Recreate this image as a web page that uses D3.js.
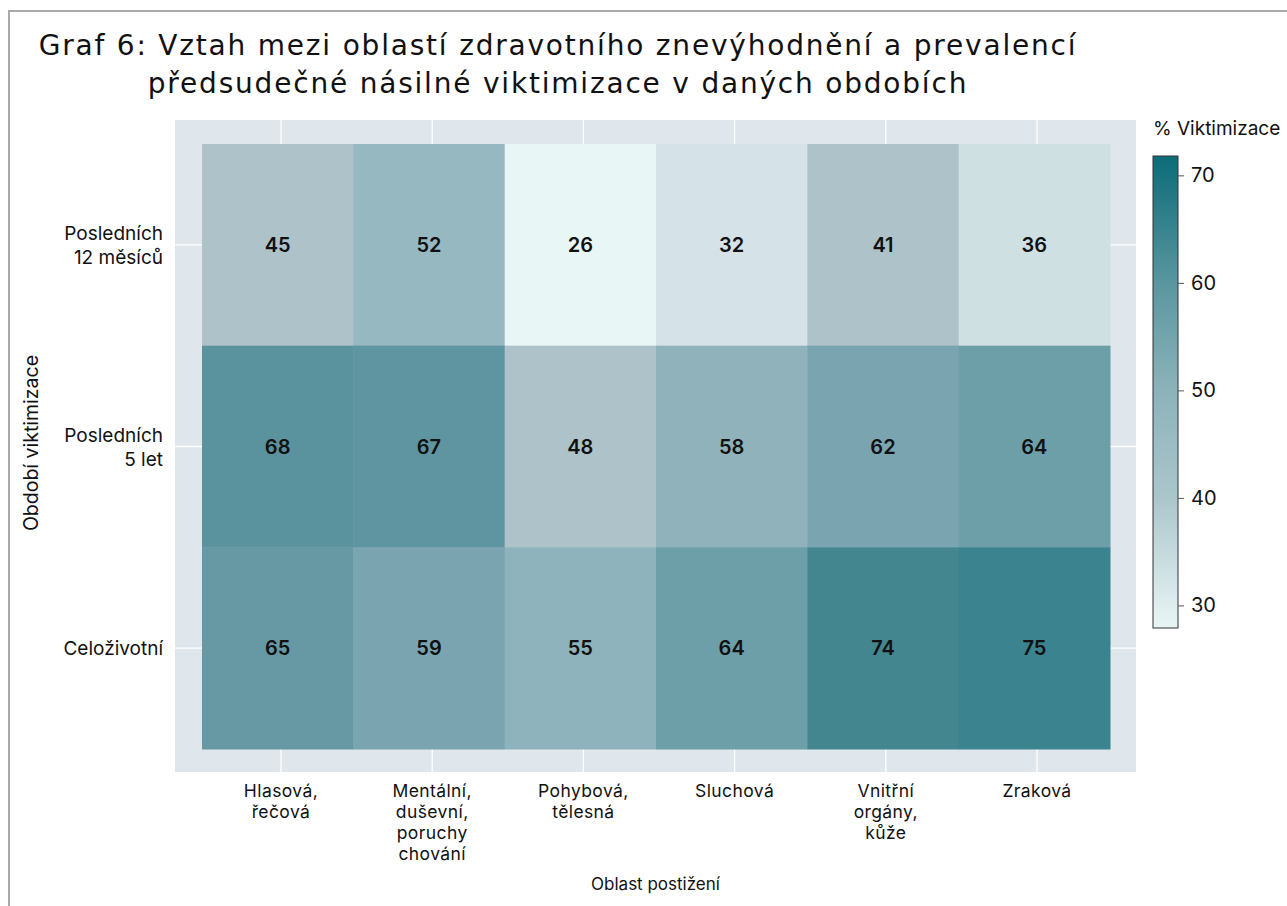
<!DOCTYPE html>
<html>
<head>
<meta charset="utf-8">
<script src="https://cdn.jsdelivr.net/npm/d3@7"></script>
<style>
  body { margin: 0; background: #fff; }
  text { font-family: Inter, "Noto Sans", sans-serif; fill: #111; }
</style>
</head>
<body>
<div id="vis"></div>
<script>
// data
const oblasti = ["Hlasová,\nřečová", "Mentální,\nduševní,\nporuchy\nchování", "Pohybová,\ntělesná",
                 "Sluchová", "Vnitřní\norgány,\nkůže", "Zraková"];
const obdobi = ["Posledních\n12 měsíců", "Posledních\n5 let", "Celoživotní"];
const posledni12 = [45, 52, 26, 32, 41, 36];
const posledni5 = [68, 67, 48, 58, 62, 64];
const celozivotni = [65, 59, 55, 64, 74, 75];
const legendTicks = [30, 40, 50, 60, 70];

const rows = [posledni12, posledni5, celozivotni];
let cells = [];
rows.forEach(function(vals, i) {
  vals.forEach(function(v, j) {
    cells.push({ row: obdobi[i], col: oblasti[j], value: v });
  });
});

const W = 1287, H = 906;
const panel = { left: 175, right: 1136, top: 120, bottom: 772 };

let svg = d3.select('#vis')
  .append('svg')
  .attr('width', W)
  .attr('height', H);

// outer frame
svg.append('rect')
  .attr('x', 9).attr('y', 11)
  .attr('width', 1320).attr('height', 920)
  .attr('fill', 'none')
  .attr('stroke', '#a9a9a9')
  .attr('stroke-width', 2);

// title
let title = svg.append('text')
  .attr('text-anchor', 'middle')
  .style('font-family', '"DejaVu Sans", sans-serif')
  .style('font-size', '28px')
  .style('letter-spacing', '1.8px');
title.append('tspan').attr('x', 558).attr('y', 55)
  .text('Graf 6: Vztah mezi oblastí zdravotního znevýhodnění a prevalencí');
title.append('tspan').attr('x', 558).attr('y', 93)
  .text('předsudečné násilné viktimizace v daných obdobích');

// scales
let xScale = d3.scaleBand().domain(oblasti).range([202, 1110]);
let xGrid = d3.scalePoint().domain(oblasti).range([281, 1037]);
let yScale = d3.scaleBand().domain(obdobi).range([144, 749]);

let color = d3.scaleLinear()
  .domain([26, 32, 36, 41, 48, 52, 55, 58, 59, 62, 64, 65, 67, 68, 74, 75])
  .range(['#e9f6f6', '#d5e3e8', '#cfe0e3', '#adc3c9', '#adc3c9', '#96b8c1', '#8fb3bc', '#8fb2bb',
          '#7aa4b0', '#7aa4b0', '#6d9fa9', '#6799a5', '#5f95a1', '#5a929d', '#438690', '#3b838f']);

// panel background + grid
svg.append('rect')
  .attr('x', panel.left).attr('y', panel.top)
  .attr('width', panel.right - panel.left).attr('height', panel.bottom - panel.top)
  .attr('fill', '#dfe6ec');

svg.append('g').selectAll('line.vx')
  .data(oblasti).enter().append('line')
  .attr('x1', d => xGrid(d)).attr('x2', d => xGrid(d))
  .attr('y1', panel.top).attr('y2', panel.bottom)
  .attr('stroke', '#fff').attr('stroke-width', 1.3);

svg.append('g').selectAll('line.hy')
  .data(obdobi).enter().append('line')
  .attr('x1', panel.left).attr('x2', panel.right)
  .attr('y1', d => yScale(d) + yScale.bandwidth() / 2)
  .attr('y2', d => yScale(d) + yScale.bandwidth() / 2)
  .attr('stroke', '#fff').attr('stroke-width', 1.3);

// cells
svg.append('g').selectAll('rect')
  .data(cells).enter().append('rect')
  .attr('x', d => xScale(d.col))
  .attr('y', d => yScale(d.row))
  .attr('width', xScale.bandwidth() + 0.5)
  .attr('height', yScale.bandwidth() + 0.5)
  .attr('fill', d => color(d.value));

svg.append('g').selectAll('text')
  .data(cells).enter().append('text')
  .attr('x', d => xScale(d.col) + xScale.bandwidth() / 2)
  .attr('y', d => yScale(d.row) + yScale.bandwidth() / 2)
  .attr('dy', '0.36em')
  .attr('text-anchor', 'middle')
  .style('font-size', '20px')
  .style('font-weight', 600)
  .text(d => d.value);

// y tick labels
obdobi.forEach(function(lab) {
  let lines = lab.split('\n');
  let cy = yScale(lab) + yScale.bandwidth() / 2;
  let t = svg.append('text')
    .attr('text-anchor', 'end')
    .style('font-size', '19px');
  lines.forEach(function(l, i) {
    t.append('tspan')
      .attr('x', 163)
      .attr('y', cy + 7 + (i - (lines.length - 1) / 2) * 24)
      .text(l);
  });
});

// x tick labels
oblasti.forEach(function(lab) {
  let t = svg.append('text')
    .attr('text-anchor', 'middle')
    .style('font-size', '17.5px')
    .style('letter-spacing', '0.4px');
  lab.split('\n').forEach(function(l, i) {
    t.append('tspan')
      .attr('x', xGrid(lab))
      .attr('y', 797 + i * 21)
      .text(l);
  });
});

// axis titles
svg.append('text')
  .attr('x', (panel.left + panel.right) / 2)
  .attr('y', 890)
  .attr('text-anchor', 'middle')
  .style('font-size', '17px')
  .text('Oblast postižení');

svg.append('text')
  .attr('transform', 'translate(38,443) rotate(-90)')
  .attr('text-anchor', 'middle')
  .style('font-size', '19.5px')
  .text('Období viktimizace');

// colour bar legend
let legendScale = d3.scaleLinear().domain([27.9, 71.8]).range([628, 156]);
let barStops = [
  { v: 27.9, c: '#e8f5f6' },
  { v: 30, c: '#dfedef' },
  { v: 40, c: '#aac6cb' },
  { v: 50, c: '#8cb3ba' },
  { v: 60, c: '#5a969f' },
  { v: 70, c: '#17727e' },
  { v: 71.8, c: '#0e6c78' }
];

let defs = svg.append('defs');
let grad = defs.append('linearGradient')
  .attr('id', 'legendGrad')
  .attr('x1', 0).attr('y1', 1).attr('x2', 0).attr('y2', 0);
grad.selectAll('stop')
  .data(barStops).enter().append('stop')
  .attr('offset', d => (legendScale.domain()[0] - d.v) / (legendScale.domain()[0] - legendScale.domain()[1]))
  .attr('stop-color', d => d.c);

svg.append('rect')
  .attr('x', 1153).attr('y', 156)
  .attr('width', 25).attr('height', 472)
  .attr('fill', 'url(#legendGrad)')
  .attr('stroke', '#333').attr('stroke-width', 1);

let legendAxis = svg.append('g')
  .attr('transform', 'translate(1178,0)')
  .call(d3.axisRight(legendScale).tickValues(legendTicks).tickSize(6).tickPadding(7));
legendAxis.select('.domain').remove();
legendAxis.selectAll('line').attr('stroke', '#555');
legendAxis.selectAll('text')
  .style('font-family', 'Inter, "Noto Sans", sans-serif')
  .style('font-size', '20px')
  .attr('fill', '#111');

svg.append('text')
  .attr('x', 1153).attr('y', 135)
  .style('font-size', '19px')
  .text('% Viktimizace');
</script>
</body>
</html>
